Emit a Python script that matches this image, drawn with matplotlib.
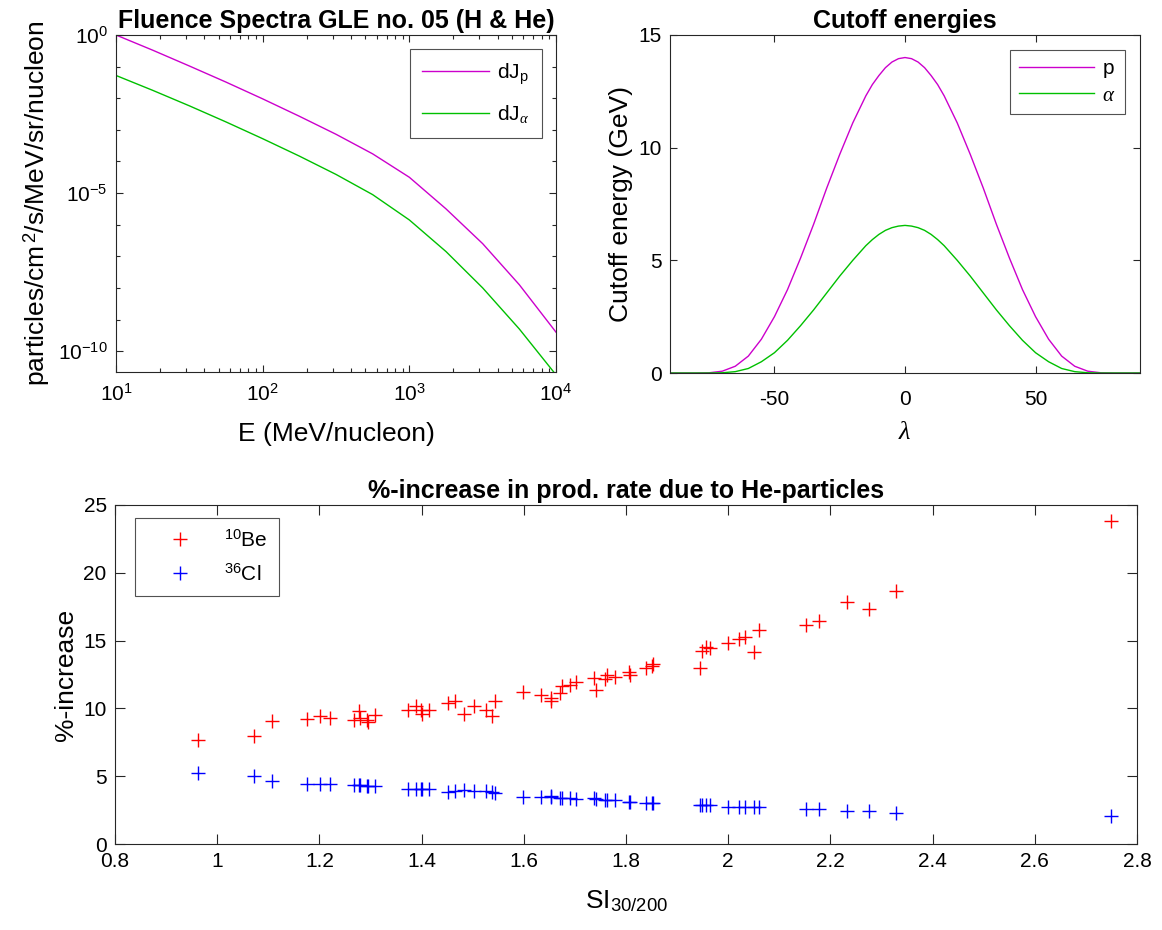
import numpy as np
import matplotlib
matplotlib.use('Agg')
import matplotlib.pyplot as plt
from matplotlib.ticker import FixedLocator, NullFormatter, LogLocator

plt.rcParams['font.family'] = ['Liberation Sans', 'DejaVu Sans']
plt.rcParams['mathtext.fontset'] = 'custom'
plt.rcParams['mathtext.rm'] = 'Liberation Sans'
plt.rcParams['mathtext.it'] = 'Liberation Serif:italic'
plt.rcParams['mathtext.bf'] = 'Liberation Sans:bold'
plt.rcParams['axes.unicode_minus'] = False

# ---------------- data ----------------
# Fluence spectra (log10 values)
log_E = [1.0, 1.25, 1.5, 1.75, 2.0, 2.25, 2.5, 2.75, 3.0, 3.25, 3.5, 3.75, 4.0]
log_dJp = [0.0, -0.48, -0.98, -1.49, -2.02, -2.57, -3.14, -3.76, -4.5, -5.5, -6.6, -7.9, -9.4]
log_dJa = [-1.28, -1.75, -2.24, -2.75, -3.28, -3.83, -4.41, -5.05, -5.85, -6.85, -8.0, -9.3, -10.75]

# Cutoff energies (GeV) vs latitude
lam = [-90, -85, -80, -75, -70, -65, -60, -55, -50, -45, -40, -35, -30, -25, -20, -15, -12.5,
       -10, -7.5, -5, -2.5, 0, 2.5, 5, 7.5, 10, 12.5, 15, 20, 25, 30, 35, 40, 45, 50, 55, 60,
       65, 70, 75, 80, 85, 90]
Ec_p = [0, 0, 0, 0.01, 0.08, 0.3, 0.75, 1.5, 2.5, 3.7, 5.1, 6.6, 8.2, 9.7, 11.1, 12.3, 12.8,
        13.2, 13.55, 13.8, 13.95, 14.0, 13.95, 13.8, 13.55, 13.2, 12.8, 12.3, 11.1, 9.7, 8.2,
        6.6, 5.1, 3.7, 2.5, 1.5, 0.75, 0.3, 0.08, 0.01, 0, 0, 0]
Ec_a = [0, 0, 0, 0, 0.01, 0.06, 0.2, 0.5, 0.9, 1.45, 2.1, 2.8, 3.55, 4.3, 5.0, 5.65, 5.92,
        6.15, 6.33, 6.45, 6.52, 6.55, 6.52, 6.45, 6.33, 6.15, 5.92, 5.65, 5.0, 4.3, 3.55,
        2.8, 2.1, 1.45, 0.9, 0.5, 0.2, 0.06, 0.01, 0, 0, 0, 0]

# %-increase in production rate
si = [0.962, 1.072, 1.107, 1.176, 1.202, 1.221, 1.268, 1.277, 1.279, 1.294, 1.295, 1.309,
      1.374, 1.390, 1.398, 1.401, 1.415, 1.451, 1.465, 1.482, 1.503, 1.526, 1.537, 1.544,
      1.599, 1.634, 1.653, 1.653, 1.671, 1.675, 1.690, 1.702, 1.737, 1.741, 1.759, 1.762,
      1.778, 1.805, 1.808, 1.840, 1.851, 1.853, 1.945, 1.948, 1.957, 1.964, 1.999, 2.022,
      2.033, 2.051, 2.060, 2.152, 2.178, 2.233, 2.276, 2.328, 2.750]
inc_be = [7.65, 7.99, 9.07, 9.22, 9.46, 9.29, 9.12, 9.80, 9.31, 9.17, 8.97, 9.51,
          9.85, 10.15, 9.90, 9.61, 9.90, 10.39, 10.51, 9.61, 10.17, 9.90, 9.41, 10.51,
          11.20, 10.96, 10.78, 10.51, 11.13, 11.62, 11.69, 11.93, 12.23, 11.37, 12.18, 12.43,
          12.30, 12.72, 12.50, 12.96, 13.16, 13.27, 12.99, 14.26, 14.51, 14.43, 14.83, 15.12,
          15.29, 14.19, 15.78, 16.15, 16.47, 17.82, 17.35, 18.68, 23.82]
inc_cl = [5.20, 5.00, 4.61, 4.46, 4.40, 4.40, 4.35, 4.32, 4.32, 4.30, 4.30, 4.25,
          4.05, 4.05, 4.04, 4.04, 4.02, 3.85, 3.90, 3.95, 3.90, 3.90, 3.85, 3.73,
          3.46, 3.50, 3.52, 3.45, 3.40, 3.36, 3.36, 3.33, 3.36, 3.30, 3.24, 3.24,
          3.22, 3.11, 3.11, 3.06, 3.06, 3.04, 2.90, 2.89, 2.88, 2.87, 2.75, 2.73,
          2.72, 2.70, 2.70, 2.57, 2.56, 2.43, 2.43, 2.30, 2.06]

# ---------------- styling ----------------
AX = '#262626'
MAG = '#cc00cc'
GRN = '#00c000'
W, H = 1162, 930
TICK_FS = 15
LAB_FS = 19
TITLE_FS = 18
LEG_FS = 15

fig = plt.figure(figsize=(W / 100, H / 100), dpi=100)

def rect(x0, y0, x1, y1):
    return [x0 / W, 1 - y1 / H, (x1 - x0) / W, (y1 - y0) / H]

def style(ax, tl, xpad=6):
    for s in ax.spines.values():
        s.set_color(AX)
        s.set_linewidth(0.8)
    ax.tick_params(which='both', direction='in', top=True, right=True, colors=AX,
                   labelcolor='black', labelsize=TICK_FS, width=0.8, pad=6)
    ax.tick_params(axis='x', which='both', pad=xpad)
    ax.tick_params(which='major', length=tl)
    ax.tick_params(which='minor', length=tl * 0.55)

def legend(ax, anchor, loc, hl, htp, ls, bp):
    lg = ax.legend(loc=loc, bbox_to_anchor=anchor, fontsize=LEG_FS, frameon=True,
                   fancybox=False, edgecolor=AX, handlelength=hl, handletextpad=htp,
                   labelspacing=ls, borderpad=bp, borderaxespad=0)
    lg.get_frame().set_linewidth(0.8)
    return lg

# ---- top-left: fluence spectra ----
ax1 = fig.add_axes(rect(116, 35, 556, 372))
E = 10 ** np.array(log_E)
ax1.loglog(E, 10 ** np.array(log_dJp), color=MAG, lw=1.0, label=r'dJ$_{\mathrm{p}}$')
ax1.loglog(E, 10 ** np.array(log_dJa), color=GRN, lw=1.0, label=r'dJ$_{\alpha}$')
ax1.set_xlim(10, 1e4)
ax1.set_ylim(10 ** -10.66, 1)
ax1.yaxis.set_major_locator(FixedLocator([1e-10, 1e-5, 1e0]))
ax1.yaxis.set_minor_locator(FixedLocator([10.0 ** k for k in range(-10, 1)]))
ax1.yaxis.set_minor_formatter(NullFormatter())
ax1.xaxis.set_minor_locator(LogLocator(base=10, subs=np.arange(2, 10), numticks=20))
ax1.xaxis.set_minor_formatter(NullFormatter())
style(ax1, 5, xpad=8)
ax1.set_xlabel('E (MeV/nucleon)', fontsize=LAB_FS, labelpad=12)
ax1.set_ylabel(r'particles/cm$^{\,2}$/s/MeV/sr/nucleon', fontsize=LAB_FS)
ax1.set_title('Fluence Spectra GLE no. 05 (H & He)', fontsize=TITLE_FS, fontweight='bold', pad=5)
legend(ax1, ((542 - 116) / 440, (372 - 49) / 337), 'upper right', 3.2, 0.4, 0.8, 0.6)

# ---- top-right: cutoff energies ----
ax2 = fig.add_axes(rect(670, 35, 1140, 373))
ax2.plot(lam, Ec_p, color=MAG, lw=1.0, label='p')
ax2.plot(lam, Ec_a, color=GRN, lw=1.0, label=r'$\alpha$')
ax2.set_xlim(-90, 90)
ax2.set_ylim(0, 15)
ax2.set_xticks([-50, 0, 50])
ax2.set_yticks([0, 5, 10, 15])
style(ax2, 5, xpad=12)
ax2.set_xlabel(r'$\lambda$', fontsize=LAB_FS, labelpad=8)
ax2.set_ylabel('Cutoff energy (GeV)', fontsize=LAB_FS)
ax2.set_title('Cutoff energies', fontsize=TITLE_FS, fontweight='bold', pad=5)
legend(ax2, ((1125 - 670) / 470, (373 - 50) / 338), 'upper right', 3.6, 0.4, 0.35, 0.45)

# ---- bottom: %-increase ----
ax3 = fig.add_axes(rect(115, 505, 1137, 844))
ax3.plot(si, inc_be, linestyle='none', marker='+', color='red', ms=10, mew=1.0,
         label=r'$^{10}$Be')
ax3.plot(si, inc_cl, linestyle='none', marker='+', color='blue', ms=10, mew=1.0,
         label=r'$^{36}$Cl')
ax3.set_xlim(0.8, 2.8)
ax3.set_ylim(0, 25)
ax3.set_xticks(np.round(np.arange(0.8, 2.81, 0.2), 1))
ax3.set_xticklabels(['0.8', '1', '1.2', '1.4', '1.6', '1.8', '2', '2.2', '2.4', '2.6', '2.8'])
ax3.set_yticks([0, 5, 10, 15, 20, 25])
style(ax3, 7, xpad=6)
ax3.set_xlabel(r'SI$_{30/200}$', fontsize=LAB_FS, labelpad=12)
ax3.set_ylabel('%-increase', fontsize=LAB_FS)
ax3.set_title('%-increase in prod. rate due to He-particles', fontsize=TITLE_FS,
              fontweight='bold', pad=5)
legend(ax3, ((135 - 115) / 1022, (844 - 518) / 339), 'upper left', 3.2, 0.5, 0.6, 0.55)

fig.savefig('out.png', dpi=100)
